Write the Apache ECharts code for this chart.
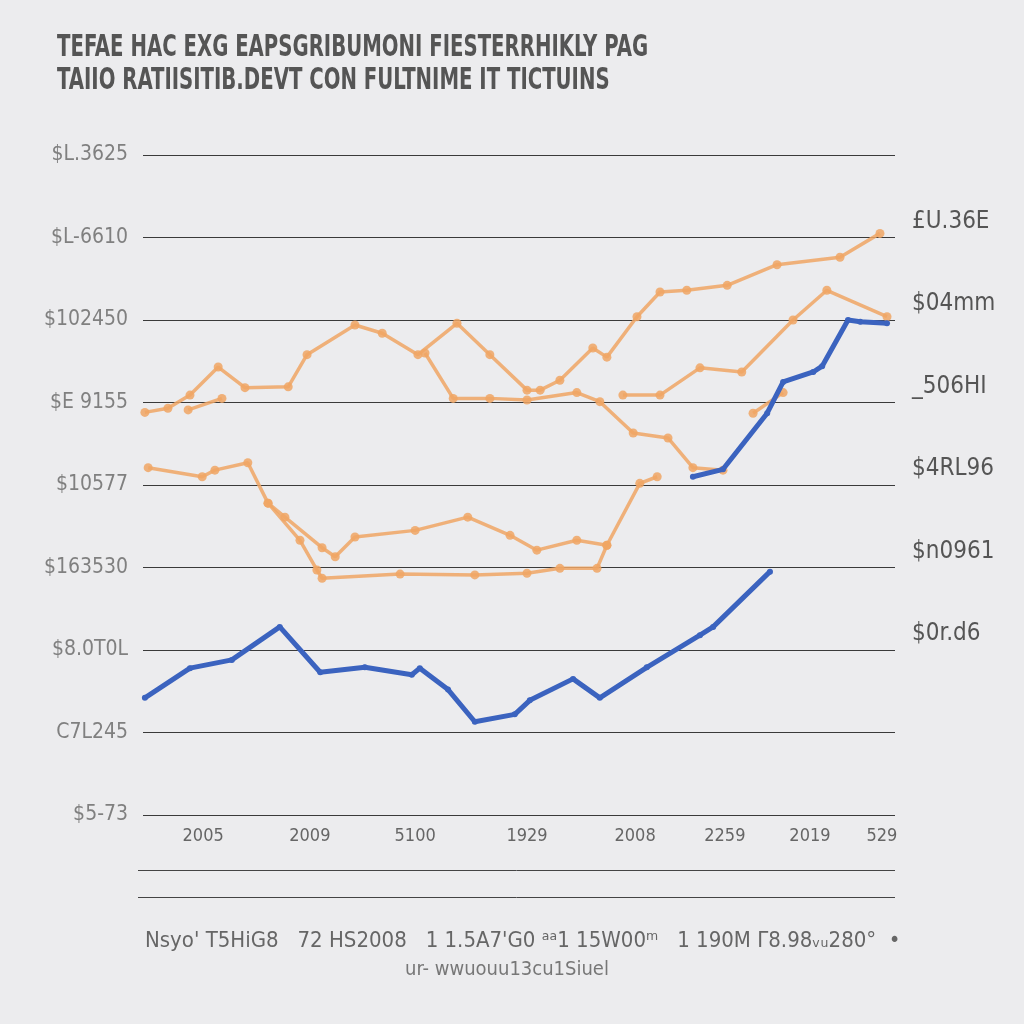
<!DOCTYPE html>
<html><head><meta charset="utf-8">
<script src="https://cdn.jsdelivr.net/npm/echarts@6/dist/echarts.min.js"></script>
<style>html,body{margin:0;padding:0;background:#ECECEE}#c{width:1024px;height:1024px}</style>
</head><body><div id="c"></div>
<script>
// ---- data ----
const titleText = "TEFAE HAC EXG EAPSGRIBUMONI FIESTERRHIKLY PAG\nTAIIO RATIISITIB.DEVT CON FULTNIME IT TICTUINS";
const leftTickLabels = ["$5-73","C7L245","$8.0T0L","$163530","$10577","$E 9155","$102450","$L-6610","$L.3625"];
const rightTickLabels = ["","","$0r.d6","$n0961","$4RL96","_506HI","$04mm","£U.36E",""];
const xTickPositions = [1.28, 3.55, 5.79, 8.17, 10.47, 12.38, 14.19, 15.72];
const xTickLabels = ["2005","2009","5100","1929","2008","2259","2019","529"];
const footLine1 = "Nsyo' T5HiG8   72 HS2008   1 1.5A7'G0 ᵃᵃ1 15W00ᵐ   1 190M Γ8.98ᵥᵤ280°  •";
const footLine2 = "ur- wwuouu13cu1Siuel";

const blueLow = [[0.04,1.42],[1.0,1.78],[1.89,1.88],[2.91,2.28],[3.77,1.73],[4.72,1.79],[5.72,1.70],[5.89,1.78],[6.49,1.52],[7.06,1.13],[7.91,1.22],[8.23,1.39],[9.15,1.65],[9.72,1.42],[10.72,1.79],[11.85,2.18],[12.13,2.28],[13.34,2.95]];
const blueHigh = [[11.70,4.10],[12.34,4.19],[13.28,4.87],[13.62,5.25],[14.26,5.37],[14.45,5.44],[15.0,6.0],[15.26,5.98],[15.83,5.96]];
const orangeTop = [[0.04,4.88],[0.53,4.93],[1.0,5.09],[1.6,5.43],[2.17,5.18],[3.09,5.19],[3.49,5.58],[4.51,5.94],[5.09,5.84],[5.85,5.58],[6.68,5.96],[7.38,5.58],[8.17,5.15],[8.45,5.15],[8.87,5.27],[9.57,5.66],[9.87,5.55],[10.51,6.04],[11.0,6.34],[11.57,6.36],[12.43,6.42],[13.49,6.67],[14.83,6.76],[15.68,7.05]];
const orangeDip = [[6.0,5.6],[6.6,5.05],[7.38,5.05],[8.17,5.03],[9.23,5.12],[9.72,5.01],[10.43,4.63],[11.17,4.57],[11.70,4.21],[12.34,4.18]];
const orangeRise = [[10.21,5.09],[11.0,5.09],[11.85,5.42],[12.74,5.37],[13.83,6.0],[14.55,6.36],[15.83,6.04]];
const orangeStub = [[12.98,4.87],[13.62,5.12]];
const orangeSmall = [[0.96,4.91],[1.68,5.05]];
const orangeMid = [[0.11,4.21],[1.26,4.10],[1.53,4.18],[2.23,4.27],[2.66,3.78],[3.02,3.61],[3.81,3.24],[4.09,3.13],[4.51,3.37],[5.79,3.45],[6.91,3.61],[7.81,3.39],[8.38,3.21],[9.23,3.33],[9.87,3.27],[10.57,4.02],[10.94,4.10]];
const orangeFlat = [[2.66,3.78],[3.34,3.33],[3.70,2.97],[3.81,2.87],[5.47,2.92],[7.06,2.91],[8.17,2.93],[8.87,2.99],[9.66,2.99],[9.87,3.27]];

// ---- chart ----
const ORANGE = 'rgba(240,166,100,0.85)';
const BLUE = '#3B63BF';
const NARROW = '"Liberation Sans Narrow","DejaVu Sans Condensed","Liberation Sans",sans-serif';

function orangeSeries(data){
  return {type:'line', data, xAxisIndex:0, yAxisIndex:0, symbol:'circle', symbolSize:9,
    lineStyle:{color:ORANGE, width:3.5}, itemStyle:{color:ORANGE}, z:2, silent:true};
}
function blueSeries(data){
  return {type:'line', data, xAxisIndex:0, yAxisIndex:0, symbol:'circle', symbolSize:6,
    lineStyle:{color:BLUE, width:5}, itemStyle:{color:BLUE}, z:3, silent:true};
}

const chart = echarts.init(document.getElementById('c'));
chart.setOption({
  backgroundColor:'#ECECEE',
  animation:false,
  grid:{left:143, right:129, top:155, bottom:209},
  xAxis:{type:'value', min:0, max:16,
    axisLine:{show:false}, axisTick:{show:false}, splitLine:{show:false},
    axisLabel:{customValues:xTickPositions, margin:12, fontFamily:NARROW, fontSize:18, color:'#666',
      formatter:(v)=>{const i=xTickPositions.indexOf(v);return i>=0?xTickLabels[i]:'';}}},
  yAxis:[
    {type:'value', min:0, max:8, interval:1, position:'left',
      axisLine:{show:false}, axisTick:{show:false},
      splitLine:{show:true, lineStyle:{color:'#3a3a3a', width:1}},
      axisLabel:{margin:15, fontFamily:NARROW, fontSize:21, color:'#808080',
        formatter:(v)=>leftTickLabels[Math.round(v)]||''}},
    {type:'value', min:0, max:8, interval:1, position:'right',
      axisLine:{show:false}, axisTick:{show:false}, splitLine:{show:false},
      axisLabel:{margin:17, fontFamily:NARROW, fontSize:24, color:'#555',
        verticalAlign:'bottom', padding:[0,0,4,0],
        formatter:(v)=>rightTickLabels[Math.round(v)]||''}}
  ],
  series:[
    orangeSeries(orangeTop), orangeSeries(orangeDip), orangeSeries(orangeRise),
    orangeSeries(orangeStub), orangeSeries(orangeSmall), orangeSeries(orangeMid),
    orangeSeries(orangeFlat), blueSeries(blueLow), blueSeries(blueHigh)
  ],
  graphic:[
    {type:'text', x:57, y:32, scaleX:0.73, scaleY:1,
      style:{text:titleText, font:'bold 30px '+NARROW, fill:'#555', lineHeight:33}},
    {type:'line', shape:{x1:138,y1:870.5,x2:895,y2:870.5}, style:{stroke:'#444', lineWidth:1}},
    {type:'line', shape:{x1:138,y1:897.5,x2:895,y2:897.5}, style:{stroke:'#444', lineWidth:1}},
    {type:'text', x:145, y:930, style:{text:footLine1, font:'22px '+NARROW, fill:'#666'}},
    {type:'text', x:405, y:960, style:{text:footLine2, font:'20px '+NARROW, fill:'#777'}}
  ]
});
</script>
</body></html>
